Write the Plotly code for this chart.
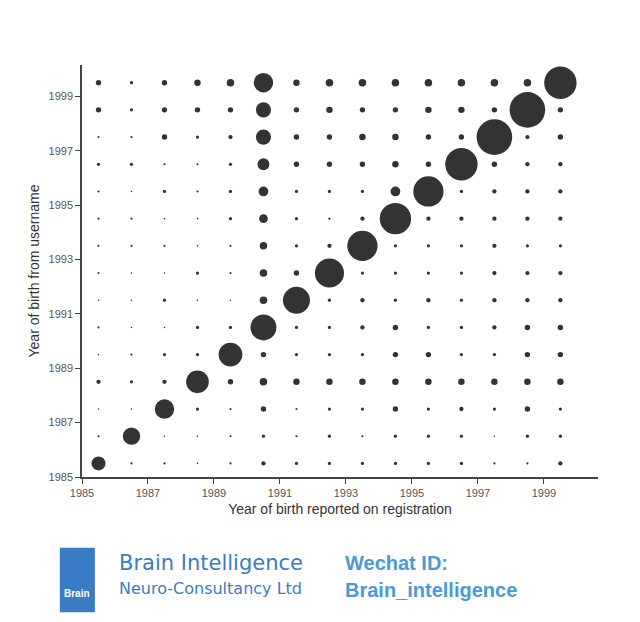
import plotly.graph_objects as go

years_x = [1985.5 + i for i in range(15)]
years_y = [1999.5 - i for i in range(15)]  # rows, top to bottom
tick_vals = [1985, 1987, 1989, 1991, 1993, 1995, 1997, 1999]

# relative dot sizes (rows top->bottom, cols left->right)
counts = [
    [5, 3, 5, 6, 7, 18, 6, 7, 7, 7, 7, 7, 7, 7, 30],
    [5, 3, 5, 5, 5, 14, 5, 6, 5, 5, 6, 6, 5, 33, 5],
    [2, 2, 5, 3, 4, 14, 5, 5, 6, 6, 5, 5, 33, 4, 5],
    [3, 3, 2, 2, 3, 11, 5, 5, 5, 6, 5, 30, 5, 4, 4],
    [2, 1, 3, 2, 3, 9, 3, 3, 3, 9, 28, 3, 4, 4, 4],
    [2, 2, 1, 1, 3, 8, 3, 2, 4, 29, 4, 4, 4, 4, 4],
    [2, 2, 2, 1, 2, 7, 3, 4, 28, 3, 3, 3, 4, 3, 3],
    [2, 1, 1, 3, 2, 7, 5, 27, 3, 3, 3, 3, 4, 4, 4],
    [1, 1, 3, 1, 1, 7, 25, 3, 4, 3, 4, 3, 4, 4, 4],
    [2, 1, 1, 3, 3, 24, 3, 3, 4, 5, 3, 3, 4, 5, 5],
    [1, 2, 3, 3, 22, 5, 3, 3, 3, 5, 5, 3, 3, 5, 5],
    [4, 3, 4, 21, 5, 7, 6, 6, 6, 6, 6, 6, 6, 6, 6],
    [1, 1, 18, 3, 2, 5, 2, 3, 3, 5, 3, 4, 3, 5, 3],
    [2, 16, 1, 1, 2, 3, 2, 3, 2, 3, 3, 3, 1, 3, 3],
    [13, 2, 2, 1, 2, 4, 3, 3, 3, 3, 3, 3, 2, 2, 4],
]

xs, ys, ss = [], [], []
for r, yv in enumerate(years_y):
    for c, xv in enumerate(years_x):
        xs.append(xv); ys.append(yv); ss.append(max(counts[r][c] * 1.08, 1.6))

fig = go.Figure(go.Scatter(x=xs, y=ys, mode="markers",
                           marker=dict(size=ss, color="#333333", opacity=1, line=dict(width=0)),
                           cliponaxis=False, hoverinfo="skip"))
axis_common = dict(showgrid=False, zeroline=False, showline=True, linecolor="#444",
                   linewidth=1.5, ticks="outside", ticklen=5, tickcolor="#444",
                   tickvals=tick_vals, tickfont=dict(family="Arial", size=11, color="#555"))
fig.update_xaxes(range=[1985, 2000.64], title=dict(text="Year of birth reported on registration",
                 font=dict(family="Arial", size=14, color="#333"), standoff=6), **axis_common)
fig.update_yaxes(range=[1985, 2000.15], title=dict(text="Year of birth from username",
                 font=dict(family="Arial", size=14, color="#333"), standoff=6), **axis_common)
fig.update_layout(width=640, height=622, margin=dict(l=74, r=50, t=57, b=153),
                  plot_bgcolor="white", paper_bgcolor="white", showlegend=False)

# footer branding
fig.add_shape(type="rect", xref="paper", yref="paper", x0=-0.043, x1=0.025, y0=-0.328, y1=-0.172,
              fillcolor="#3a7cc4", line=dict(width=0), layer="below")
fig.add_annotation(xref="paper", yref="paper", x=-0.009, y=-0.30, xanchor="center",
                   text="<b>Brain</b>", showarrow=False,
                   font=dict(family="Arial", size=10, color="#ffffff"))
fig.add_annotation(xref="paper", yref="paper", x=0.068, y=-0.175, xanchor="left", yanchor="top",
                   text="Brain Intelligence", showarrow=False,
                   font=dict(family="DejaVu Sans", size=21, color="#3a7cc4"))
fig.add_annotation(xref="paper", yref="paper", x=0.068, y=-0.243, xanchor="left", yanchor="top",
                   text="Neuro-Consultancy Ltd", showarrow=False,
                   font=dict(family="DejaVu Sans", size=16, color="#3a7cc4"))
fig.add_annotation(xref="paper", yref="paper", x=0.506, y=-0.178, xanchor="left", yanchor="top",
                   text="<b>Wechat ID:</b>", showarrow=False,
                   font=dict(family="Arial", size=20, color="#4a9ad8"))
fig.add_annotation(xref="paper", yref="paper", x=0.506, y=-0.243, xanchor="left", yanchor="top",
                   text="<b>Brain_intelligence</b>", showarrow=False,
                   font=dict(family="Arial", size=20, color="#4a9ad8"))
fig.write_html("out.html")
